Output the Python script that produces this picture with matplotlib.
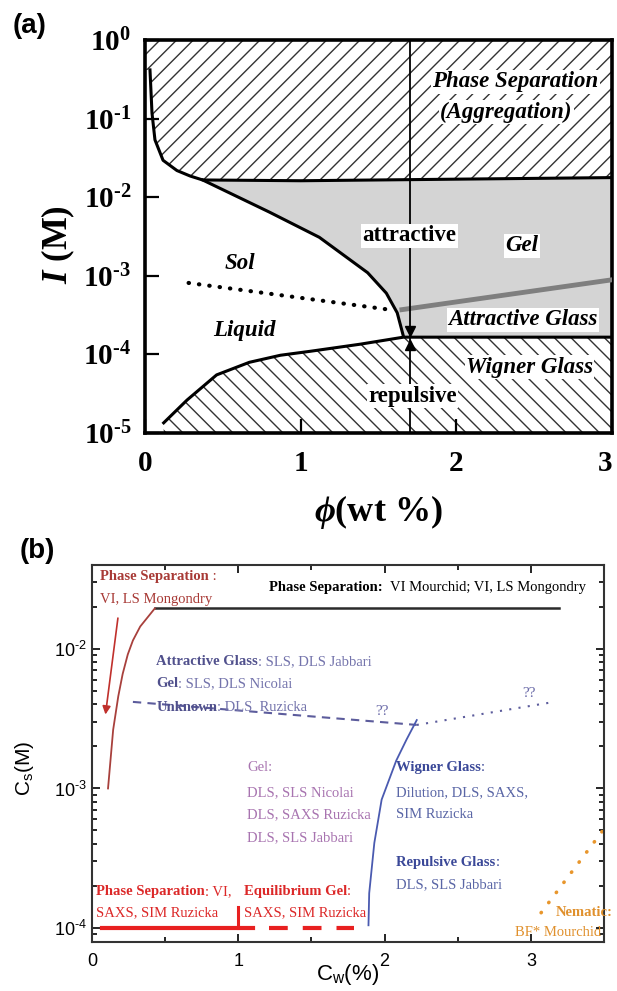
import numpy as np
import matplotlib
matplotlib.use('Agg')
import matplotlib.pyplot as plt
from matplotlib.ticker import FixedLocator, FuncFormatter, MultipleLocator, LogLocator, NullFormatter

plt.rcParams['font.family'] = ['Liberation Serif', 'DejaVu Serif']
plt.rcParams['mathtext.fontset'] = 'custom'
plt.rcParams['mathtext.rm'] = 'Liberation Serif'
plt.rcParams['mathtext.bf'] = 'Liberation Serif:bold'
plt.rcParams['mathtext.it'] = 'Liberation Serif:italic:bold'
plt.rcParams['mathtext.sf'] = 'Liberation Sans'
plt.rcParams['hatch.linewidth'] = 1.0

# ---------------- (a) phase diagram, phi (wt %) vs log10 I (M) ----------------
phi_sep  = [0.032, 0.045, 0.064, 0.116, 0.205, 0.29, 0.37, 1.0, 3.0]        # phase separation boundary
logI_sep = [-0.38, -0.93, -1.27, -1.53, -1.66, -1.73, -1.78, -1.79, -1.75]
phi_sol  = [0.37, 0.80, 1.12, 1.43, 1.55, 1.62, 1.66]                        # sol / gel boundary
logI_sol = [-1.78, -2.19, -2.51, -2.96, -3.22, -3.47, -3.77]
phi_wig  = [0.12, 0.27, 0.46, 0.67, 0.87, 1.06, 1.38, 1.66, 3.0]             # Wigner glass boundary
logI_wig = [-4.87, -4.58, -4.26, -4.10, -4.01, -3.96, -3.87, -3.78, -3.78]
phi_dot  = [0.28, 1.57]                                                      # sol / liquid crossover
logI_dot = [-3.09, -3.43]
phi_ag   = [1.65, 3.0]                                                       # gel / attractive glass
logI_ag  = [-3.43, -3.05]
phi_cut  = 1.70                                                              # vertical cut
logI_arrows = [-3.70, -3.88]

# ---------------- (b) literature summary, Cw (%) vs Cs (M) ----------------
cw_ps_line  = [0.43, 3.19];  cs_ps_line  = [0.0196, 0.0196]
cw_ps_curve = [0.43, 0.33, 0.28, 0.245, 0.21, 0.18, 0.145, 0.11]
cs_ps_curve = [10**-1.71, 10**-1.84, 10**-1.94, 10**-2.04, 10**-2.18, 10**-2.34, 10**-2.58, 10**-3.0]
cw_arrow = [0.18, 0.09];     cs_arrow = [10**-1.76, 10**-2.49]
cw_unk_dash = [0.28, 2.22];  cs_unk_dash = [10**-2.38, 10**-2.545]
cw_unk_dot  = [2.22, 3.16];  cs_unk_dot  = [10**-2.545, 10**-2.38]
cw_wig = [2.22, 2.15, 2.08, 1.98, 1.93, 1.895, 1.89]
cs_wig = [10**-2.51, 10**-2.65, 10**-2.80, 10**-3.08, 10**-3.39, 10**-3.75, 10**-3.98]
cw_ps_low = [0.07, 1.10];    cs_ps_low = [1e-4, 1e-4]
cw_tick = [1.0, 1.0];        cs_tick = [1e-4, 10**-3.85]
cw_eq_gel = [1.21, 1.79];    cs_eq_gel = [1e-4, 1e-4]
cw_nem = [3.07, 3.5];        cs_nem = [10**-3.89, 10**-3.29]

HY = '\u2010'   # short hyphen for the exponent sign


def pow_label(v, style):
    e = int(round(np.log10(v)))
    s = (HY + str(-e)) if e < 0 else str(e)
    return r'$\%s{10^{%s}}$' % (style, s)


fig = plt.figure(figsize=(6.17, 9.91), dpi=100)

# ======================= panel (a) =======================
ax = fig.add_axes([0.235, 0.563, 0.757, 0.3966])
ax.set_yscale('log')
ax.set_xlim(0, 3); ax.set_ylim(1e-5, 1)

I_sep = np.power(10.0, logI_sep); I_sol = np.power(10.0, logI_sol); I_wig = np.power(10.0, logI_wig)

# gray gel region
gx = list(phi_sol) + [3.0] + [3.0] + [1.0, 0.37]
gy = list(I_sol) + [I_wig[-1]] + [I_sep[-1]] + [I_sep[-2], I_sep[-3]]
ax.fill(gx, gy, facecolor='#d4d4d4', edgecolor='none', zorder=1)

# hatched phase separation region
hx = [0.0, 0.0] + list(phi_sep) + [3.0]
hy = [1.0, I_sep[0]] + list(I_sep) + [1.0]
ax.fill(hx, hy, facecolor='white', edgecolor='#333333', hatch='//', lw=0, zorder=1)
# hatched Wigner glass region
wx = list(phi_wig) + [3.0, phi_wig[0]]
wy = list(I_wig) + [1e-5, 1e-5]
ax.fill(wx, wy, facecolor='white', edgecolor='#333333', hatch='\\\\', lw=0, zorder=1)

ax.plot(phi_sep, I_sep, color='k', lw=2.2, zorder=3)
ax.plot(phi_sol, I_sol, color='k', lw=2.2, zorder=3)
ax.plot(phi_wig, I_wig, color='k', lw=2.2, zorder=3)
ax.plot(phi_dot, np.power(10.0, logI_dot), color='k', lw=3, ls=(0, (0.1, 2.4)),
        dash_capstyle='round', zorder=3)
ax.plot(phi_ag, np.power(10.0, logI_ag), color='#7f7f7f', lw=3.5, zorder=3)
ax.axvline(phi_cut, color='k', lw=1.3, zorder=4)
ax.plot([phi_cut], [10**logI_arrows[0]], marker='v', color='k', ms=7, zorder=4)
ax.plot([phi_cut], [10**logI_arrows[1]], marker='^', color='k', ms=7, zorder=4)

wb = dict(facecolor='white', edgecolor='none', pad=1)
lab = dict(fontsize=16.5, fontweight='bold', ha='center', va='center', zorder=5)
ax.text(2.38, 10**-0.53, 'Phase Separation', style='italic', bbox=wb, **lab)
ax.text(2.32, 10**-0.92, '(Aggregation)', style='italic', bbox=wb, **lab)
ax.text(1.70, 10**-2.49, 'attractive', bbox=wb, **lab)
ax.text(2.42, 10**-2.62, 'Gel', style='italic', bbox=wb, **lab)
ax.text(0.61, 10**-2.84, 'Sol', style='italic', **lab)
ax.text(0.64, 10**-3.69, 'Liquid', style='italic', **lab)
ax.text(2.43, 10**-3.56, 'Attractive Glass', style='italic', bbox=wb, **lab)
ax.text(2.47, 10**-4.16, 'Wigner Glass', style='italic', bbox=wb, **lab)
ax.text(1.72, 10**-4.53, 'repulsive', bbox=wb, **lab)

for s in ax.spines.values():
    s.set_linewidth(2.6)
ax.yaxis.set_major_locator(FixedLocator([1e-5, 1e-4, 1e-3, 1e-2, 1e-1, 1]))
ax.yaxis.set_minor_locator(FixedLocator([]))
ax.yaxis.set_major_formatter(FuncFormatter(lambda v, p: pow_label(v, 'mathbf')))
ax.xaxis.set_major_locator(FixedLocator([0, 1, 2, 3]))
ax.tick_params(direction='in', length=10, width=1.6, labelsize=21, pad=10)
ax.tick_params(axis='x', pad=12)
for t in ax.get_xticklabels():
    t.set_fontweight('bold')
ax.get_xticklabels()[-1].set_ha('right')   # keep "3" inside the figure
ax.set_xlabel(r'$\phi$(wt %)', fontsize=26, fontweight='bold', labelpad=12)
ax.set_ylabel(r'$\mathit{I}$ (M)', fontsize=25, fontweight='bold')
ax.yaxis.set_label_coords(-0.145, 0.48)
fig.text(13/617, 1 - 26/991, '(a)', family='Liberation Sans', fontweight='bold', fontsize=20, va='center')

# ======================= panel (b) =======================
bx = fig.add_axes([0.149, 0.0494, 0.830, 0.3804])
bx.set_yscale('log')
bx.set_xlim(0, 3.5); bx.set_ylim(10**-4.1, 10**-1.4)

bx.plot(cw_ps_line, cs_ps_line, color='#2b2b2b', lw=1.8)
bx.plot(cw_ps_curve, cs_ps_curve, color='#a8403c', lw=1.3)
bx.annotate('', xy=(cw_arrow[1], cs_arrow[1]), xytext=(cw_arrow[0], cs_arrow[0]),
            arrowprops=dict(arrowstyle='-|>', color='#c0302c', lw=1.2, mutation_scale=12))
bx.plot(cw_unk_dash, cs_unk_dash, color='#5c5c9c', lw=1.5, ls=(0, (4, 3)))
bx.plot(cw_unk_dot, cs_unk_dot, color='#5c5c9c', lw=1.5, ls=(0, (1, 3.5)))
bx.plot(cw_wig, cs_wig, color='#4a5ab0', lw=1.3)
bx.plot(cw_ps_low, cs_ps_low, color='#e82020', lw=3)
bx.plot(cw_tick, cs_tick, color='#e82020', lw=2.2)
bx.plot(cw_eq_gel, cs_eq_gel, color='#e82020', lw=3, ls=(0, (4.5, 3.6)))
bx.plot(cw_nem, cs_nem, color='#e8962c', lw=2.6, ls=(0, (0.1, 3.4)), dash_capstyle='round')


def rich(ax, x, y, parts, size=10.5, **kw):
    """Draw a line of text built from (string, weight, colour) pieces."""
    s, w, c = parts[0]
    t = ax.text(x, y, s, fontweight=w, color=c, fontsize=size, ha='left', va='center', **kw)
    for s, w, c in parts[1:]:
        t = ax.annotate(s, xy=(1, 0), xycoords=t, fontweight=w, color=c, fontsize=size,
                        ha='left', va='bottom')
    return t


dred, red, ora = '#a83a36', '#dc2828', '#e0902c'
pur_b, pur = '#50508c', '#7474ac'
mauve = '#a874b0'
blu_b, blu = '#3a4898', '#5a66a6'

rich(bx, 0.055, 10**-1.48, [('Phase Separation', 'bold', dred), (' :', 'normal', dred)])
rich(bx, 0.055, 10**-1.65, [('VI, LS Mongondry', 'normal', dred)])
rich(bx, 1.21, 10**-1.56, [('Phase Separation:', 'bold', 'k'), ('  VI Mourchid; VI, LS Mongondry', 'normal', 'k')])
rich(bx, 0.44, 10**-2.09, [('Attractive Glass', 'bold', pur_b), (': SLS, DLS Jabbari', 'normal', pur)])
rich(bx, 0.44, 10**-2.25, [('Gel', 'bold', pur_b), (': SLS, DLS Nicolai', 'normal', pur)])
rich(bx, 0.44, 10**-2.42, [('Unknown', 'bold', pur_b), (': DLS  Ruzicka', 'normal', pur)])
bx.text(1.98, 10**-2.45, '??', color='#6a6aa8', fontsize=11, ha='center', va='center')
bx.text(2.99, 10**-2.32, '??', color='#6a6aa8', fontsize=11, ha='center', va='center')
for k, s in enumerate(['Gel:', 'DLS, SLS Nicolai', 'DLS, SAXS Ruzicka', 'DLS, SLS Jabbari']):
    rich(bx, 1.06, 10**[-2.85, -3.03, -3.19, -3.35][k], [(s, 'normal', mauve)])
rich(bx, 2.08, 10**-2.85, [('Wigner Glass', 'bold', blu_b), (':', 'normal', blu_b)])
rich(bx, 2.08, 10**-3.03, [('Dilution, DLS, SAXS,', 'normal', blu)])
rich(bx, 2.08, 10**-3.19, [('SIM Ruzicka', 'normal', blu)])
rich(bx, 2.08, 10**-3.53, [('Repulsive Glass', 'bold', blu_b), (':', 'normal', blu_b)])
rich(bx, 2.08, 10**-3.69, [('DLS, SLS Jabbari', 'normal', blu)])
rich(bx, 0.03, 10**-3.74, [('Phase Separation', 'bold', red), (': VI,', 'normal', red)])
rich(bx, 0.03, 10**-3.89, [('SAXS, SIM Ruzicka', 'normal', red)])
rich(bx, 1.04, 10**-3.74, [('Equilibrium Gel', 'bold', red), (':', 'normal', red)])
rich(bx, 1.04, 10**-3.89, [('SAXS, SIM Ruzicka', 'normal', red)])
bx.text(3.56, 10**-3.89, 'Nematic:', color=ora, fontweight='bold', fontsize=10.5, ha='right', va='center')
bx.text(3.48, 10**-4.03, 'BF* Mourchid', color=ora, fontsize=10.5, ha='right', va='center')

for s in bx.spines.values():
    s.set_linewidth(1.5); s.set_color('#333333')
bx.xaxis.set_major_locator(MultipleLocator(1))
bx.xaxis.set_minor_locator(MultipleLocator(0.5))
bx.yaxis.set_major_locator(LogLocator(base=10, numticks=10))
bx.yaxis.set_minor_locator(LogLocator(base=10, subs=np.arange(2, 10), numticks=10))
bx.yaxis.set_minor_formatter(NullFormatter())
bx.yaxis.set_major_formatter(FuncFormatter(lambda v, p: pow_label(v, 'mathsf')))
bx.tick_params(which='both', direction='in', top=True, right=True, width=1.2, labelsize=13)
bx.tick_params(which='major', length=6)
bx.tick_params(which='minor', length=3.5)
bx.tick_params(axis='x', pad=8)
for t in bx.get_xticklabels():
    t.set_family('Liberation Sans')
bx.set_xlabel(r'C$_{\mathsf{w}}$(%)', family='Liberation Sans', fontsize=16)
bx.xaxis.set_label_coords(0.50, -0.052)
bx.set_ylabel(r'C$_{\mathsf{s}}$(M)', family='Liberation Sans', fontsize=15)
bx.yaxis.set_label_coords(-0.11, 0.46)
fig.text(20/617, 1 - 551/991, '(b)', family='Liberation Sans', fontweight='bold', fontsize=20, va='center')

fig.savefig('out.png', dpi=100)
